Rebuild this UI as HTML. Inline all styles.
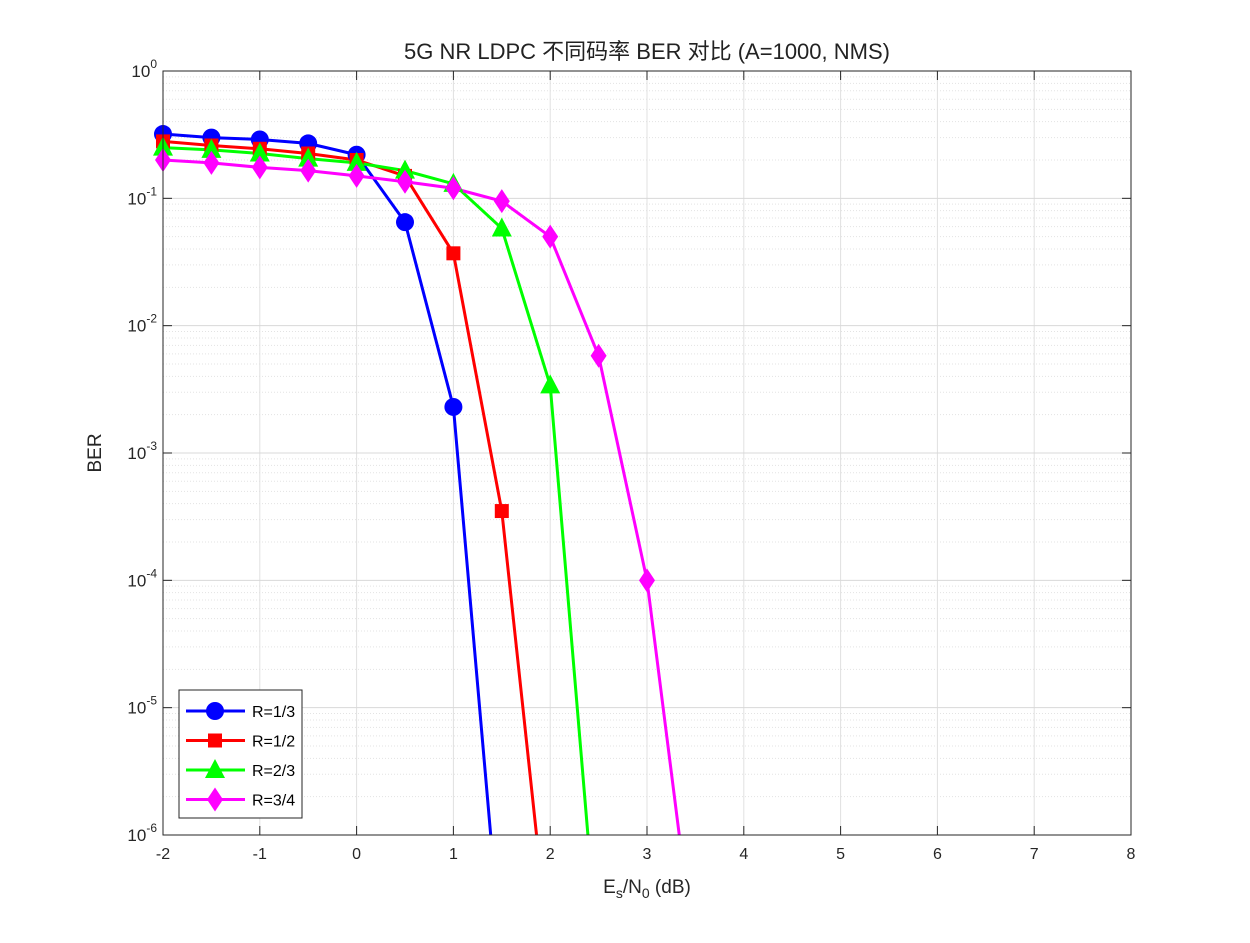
<!DOCTYPE html>
<html><head><meta charset="utf-8"><style>
html,body{margin:0;padding:0;background:#fff;}
text{font-family:"Liberation Sans","Noto Sans CJK SC",sans-serif;}
</style></head><body>
<svg id="chart" width="1250" height="938" xmlns="http://www.w3.org/2000/svg">
<rect x="0" y="0" width="1250" height="938" fill="#fff"/>
<defs><clipPath id="clip"><rect x="163" y="71" width="968" height="764"/></clipPath></defs>
<g id="grid"></g>
<g id="plot" clip-path="url(#clip)"></g>
<g id="marks"></g>
<g id="axes"></g>
<text x="647" y="59" text-anchor="middle" font-size="22" fill="#222">5G NR LDPC 不同码率 BER 对比 (A=1000, NMS)</text>
<text x="647" y="893" text-anchor="middle" font-size="19" fill="#262626">E<tspan font-size="14" dy="5">s</tspan><tspan dy="-5">/N</tspan><tspan font-size="14" dy="5">0</tspan><tspan dy="-5"> (dB)</tspan></text>
<text transform="translate(101,453) rotate(-90)" text-anchor="middle" font-size="19" fill="#262626">BER</text>
<g id="legend"></g>
</svg>
<script>
const xs = [-2,-1.5,-1,-0.5,0,0.5,1,1.5,2,2.5,3,3.5];
const r13 = [0.32,0.30,0.29,0.27,0.22,0.065,0.0023,1e-7];
const r12 = [0.28,0.26,0.245,0.225,0.2,0.15,0.037,0.00035,1e-7];
const r23 = [0.25,0.24,0.225,0.205,0.19,0.165,0.13,0.058,0.0034,1e-7];
const r34 = [0.2,0.19,0.175,0.165,0.15,0.135,0.12,0.095,0.05,0.0058,0.0001,1e-7];
const xTicks = [-2,-1,0,1,2,3,4,5,6,7,8];
const yExps = [0,-1,-2,-3,-4,-5,-6];
const labels = ['R=1/3','R=1/2','R=2/3','R=3/4'];
const L=163,R=1131,T=71,B=835;
const X=v=>L+(v+2)/10*(R-L);
const Y=v=>T+(-Math.log10(v))/6*(B-T);
const NS='http://www.w3.org/2000/svg';
function mk(tag,attrs,parent){const e=document.createElementNS(NS,tag);for(const k in attrs)e.setAttribute(k,attrs[k]);parent.appendChild(e);return e;}
const grid=document.getElementById('grid'),axes=document.getElementById('axes'),plot=document.getElementById('plot'),marks=document.getElementById('marks'),leg=document.getElementById('legend');
for(let e=-6;e<0;e++)for(let m=2;m<=9;m++){const y=Y(m*Math.pow(10,e));const l=mk('line',{x1:L,x2:R,y1:y,y2:y,stroke:'#e3e3e3','stroke-width':1,'stroke-dasharray':'1,2'},grid);

}
xTicks.forEach(t=>{const x=X(t);const l=mk('line',{x1:x,x2:x,y1:T,y2:B,stroke:'#e0e0e0','stroke-width':1},grid);


const tl=mk('text',{x:x,y:B+24,'text-anchor':'middle','font-size':16,fill:'#262626'},axes);tl.textContent=t;


mk('line',{x1:x,x2:x,y1:B,y2:B-9,stroke:'#262626'},axes);mk('line',{x1:x,x2:x,y1:T,y2:T+9,stroke:'#262626'},axes);});
yExps.forEach(e=>{const y=Y(Math.pow(10,e));const l=mk('line',{x1:L,x2:R,y1:y,y2:y,stroke:'#d8d8d8','stroke-width':1},grid);


const tl=mk('text',{x:L-6,y:y+6,'text-anchor':'end','font-size':17,fill:'#262626'},axes);
tl.innerHTML='10<tspan font-size="12" dy="-9">'+e+'</tspan>';


mk('line',{x1:L,x2:L+9,y1:y,y2:y,stroke:'#262626'},axes);mk('line',{x1:R,x2:R-9,y1:y,y2:y,stroke:'#262626'},axes);});
const box=mk('rect',{x:L,y:T,width:R-L,height:B-T,fill:'none',stroke:'#262626','stroke-width':1},axes);


function marker(type,x,y,c,parent){let e;
if(type==='o')e=mk('circle',{cx:x,cy:y,r:9,fill:c},parent);
else if(type==='s')e=mk('rect',{x:x-7,y:y-7,width:14,height:14,fill:c},parent);
else if(type==='^')e=mk('polygon',{points:`${x},${y-11} ${x-10},${y+8} ${x+10},${y+8}`,fill:c},parent);
else e=mk('polygon',{points:`${x},${y-12} ${x-8},${y} ${x},${y+12} ${x+8},${y}`,fill:c},parent);
return e;}
const series=[[r13,'#0000ff','o','series-r13'],[r12,'#ff0000','s','series-r12'],[r23,'#00ff00','^','series-r23'],[r34,'#ff00ff','d','series-r34']];
series.forEach(([vals,c,m,name])=>{const pts=vals.map((v,i)=>X(xs[i])+','+Y(v)).join(' ');
const pl=mk('polyline',{points:pts,fill:'none',stroke:c,'stroke-width':3},plot);


const g=mk('g',{},marks);
vals.forEach((v,i)=>{if(v<1e-6)return;const mm=marker(m,X(xs[i]),Y(v),c,g);

});});
const lb=mk('rect',{x:179,y:690,width:123,height:128,fill:'#fff',stroke:'#262626','stroke-width':1},leg);


series.forEach(([vals,c,m,name],i)=>{const y=711+i*29.5;
mk('line',{x1:186,x2:245,y1:y,y2:y,stroke:c,'stroke-width':3},leg);marker(m,215,y,c,leg);
const t=mk('text',{x:252,y:y+6,'font-size':16,fill:'#000'},leg);t.textContent=labels[i];

});
</script>
</body></html>
